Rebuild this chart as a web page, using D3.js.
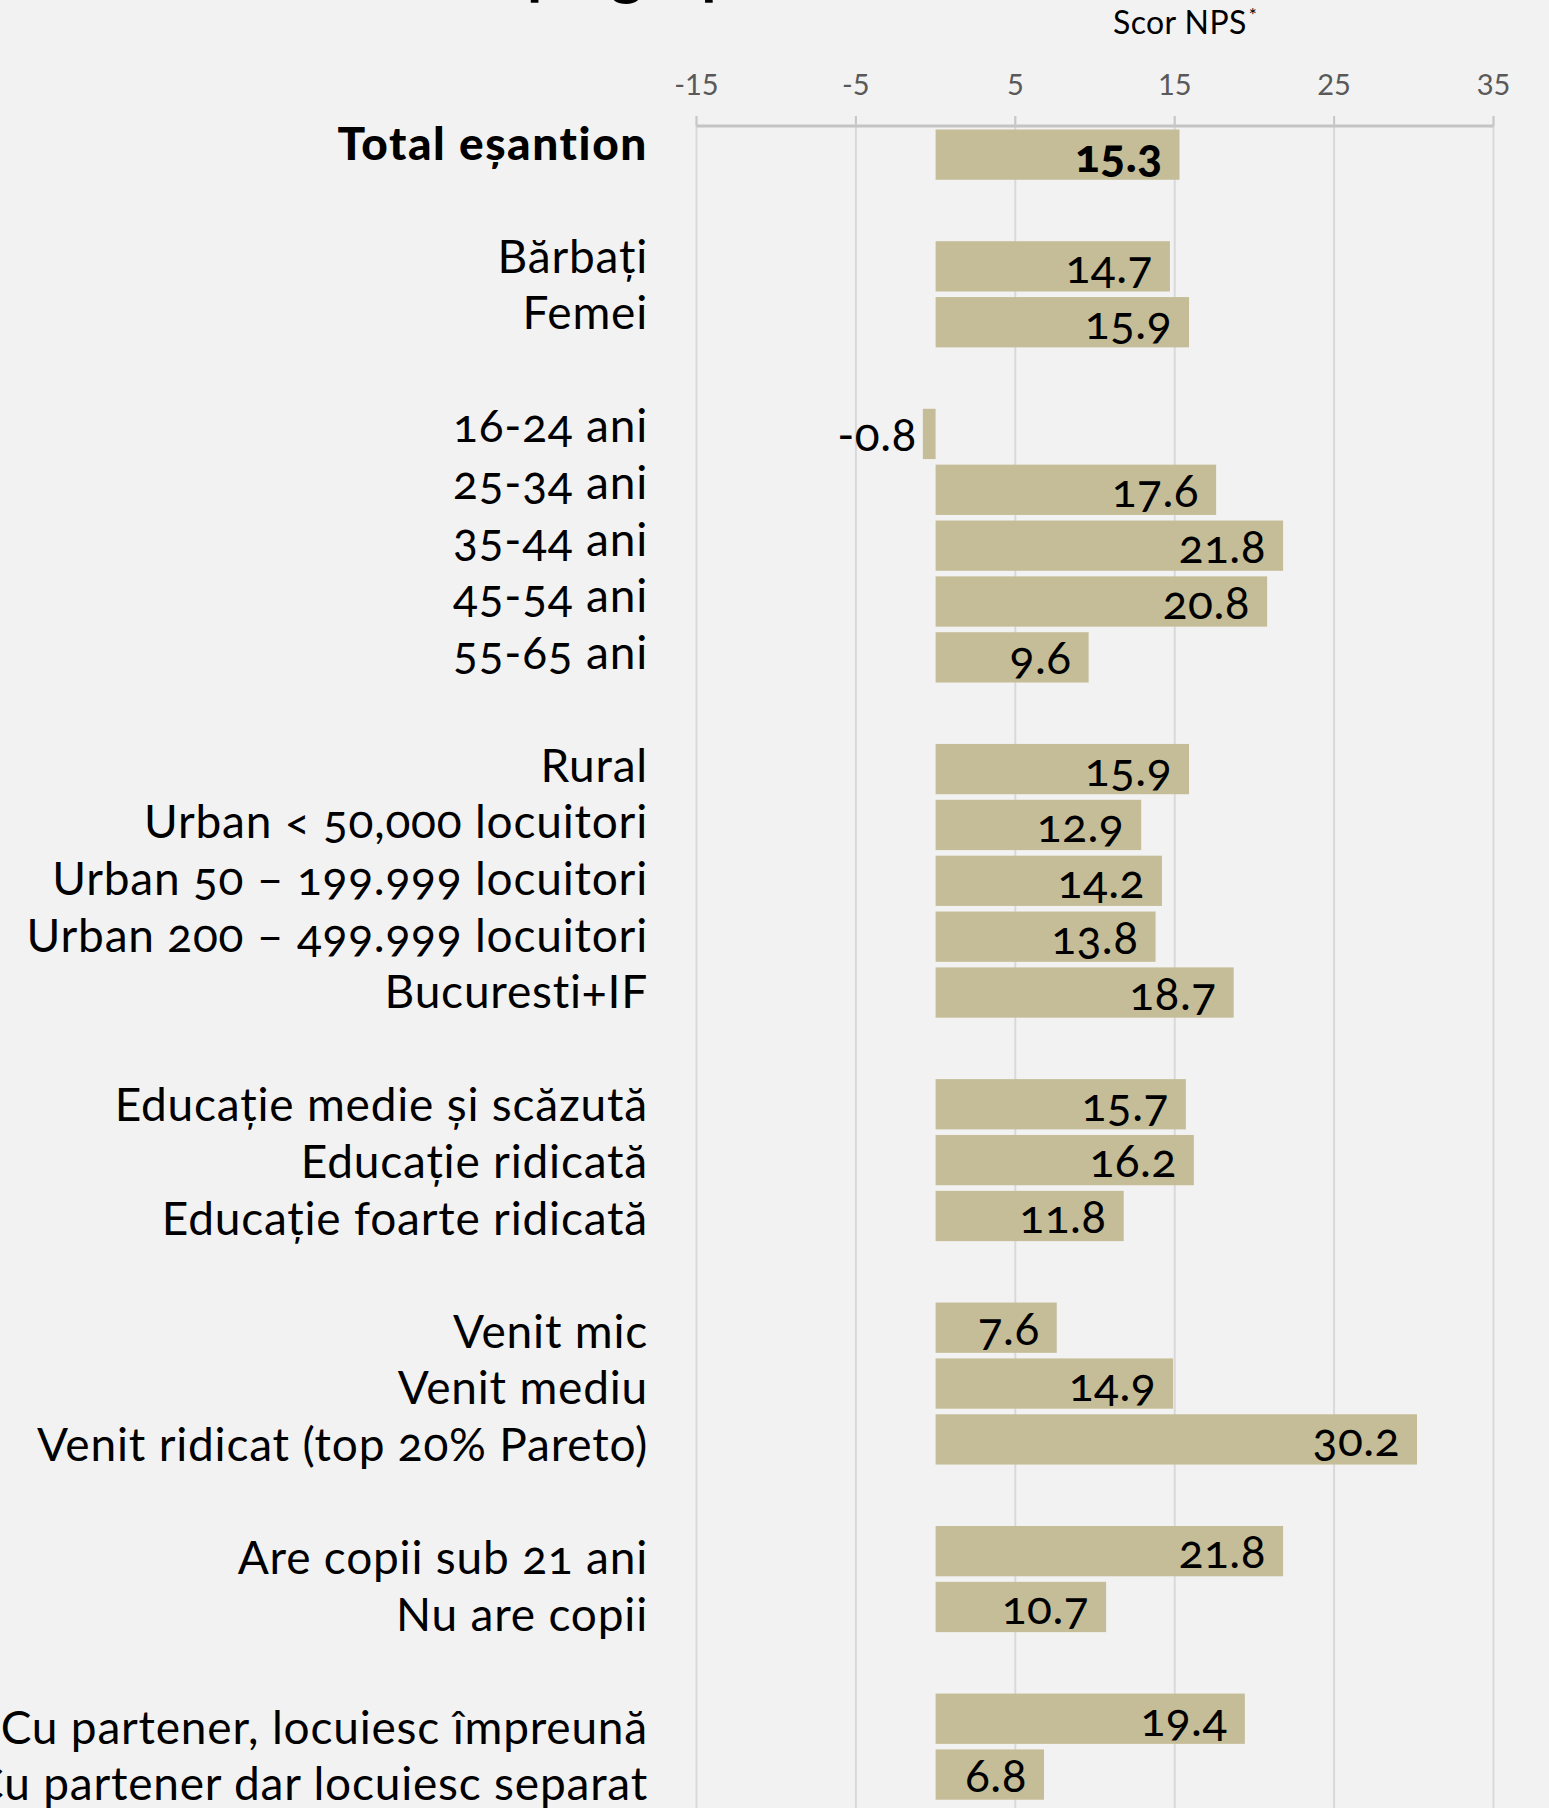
<!DOCTYPE html>
<html>
<head>
<meta charset="utf-8">
<script src="https://cdn.jsdelivr.net/npm/d3@7"></script>
<style>
  html, body { margin: 0; padding: 0; background: #f2f2f2; }
  svg { display: block; }
  text { font-family: Lato, "Noto Sans", sans-serif; }
</style>
</head>
<body>
<svg id="chart" width="1549" height="1808"></svg>
<script>
// ---- data ----
const categories = [
  "Total eșantion",
  "Bărbați", "Femei",
  "16-24 ani", "25-34 ani", "35-44 ani", "45-54 ani", "55-65 ani",
  "Rural", "Urban < 50,000 locuitori", "Urban 50 – 199.999 locuitori", "Urban 200 – 499.999 locuitori", "Bucuresti+IF",
  "Educație medie și scăzută", "Educație ridicată", "Educație foarte ridicată",
  "Venit mic", "Venit mediu", "Venit ridicat (top 20% Pareto)",
  "Are copii sub 21 ani", "Nu are copii",
  "Cu partener, locuiesc împreună", "Cu partener dar locuiesc separat"
];
const values = [
  15.3,
  14.7, 15.9,
  -0.8, 17.6, 21.8, 20.8, 9.6,
  15.9, 12.9, 14.2, 13.8, 18.7,
  15.7, 16.2, 11.8,
  7.6, 14.9, 30.2,
  21.8, 10.7,
  19.4, 6.8
];
const groupSizes = [1, 2, 5, 5, 3, 3, 2, 2];
const tickValues = [-15, -5, 5, 15, 25, 35];
const axisTitle = "Scor NPS";
const titleFragment = "pe grupe";

// ---- layout ----
const W = 1549, H = 1808;
const svg = d3.select("#chart");

// slot index for each category: one empty slot between groups
const groupOf = [];
groupSizes.forEach((n, g) => { for (let i = 0; i < n; i++) groupOf.push(g); });
const rows = categories.map((c, i) => ({ name: c, value: values[i], slot: i + groupOf[i], bold: i === 0 }));
const nSlots = d3.max(rows, d => d.slot) + 1;

const x = d3.scaleLinear().domain([-15, 35]).range([696.5, 1493.5]);
const step = 55.86;
const y = d3.scaleBand().domain(d3.range(nSlots))
  .range([126.7, 126.7 + nSlots * step]).paddingInner(0.1).paddingOuter(0.05);
const yLabel = d3.scaleLinear().domain([0, nSlots - 1]).range([159.5, 159.5 + (nSlots - 1) * 56.58]);

const fmt = v => d3.format(".1f")(v).replace("\u2212", "-");

// title fragment (cut off at top)
svg.append("text")
  .attr("x", 527).attr("y", -7)
  .attr("font-size", 62).attr("font-weight", 700).attr("fill", "#000")
  .text(titleFragment);

// axis title
const at = svg.append("text")
  .attr("x", 1113).attr("y", 34)
  .attr("font-size", 32).attr("fill", "#000")
  .attr("letter-spacing", 0.4);
at.append("tspan").text(axisTitle);
at.append("tspan").attr("font-size", 19).attr("dy", -12).attr("dx", 2).text("*");

// gridlines
svg.append("g").selectAll("line").data(tickValues).join("line")
  .attr("x1", d => x(d)).attr("x2", d => x(d))
  .attr("y1", 116).attr("y2", H)
  .attr("stroke", "#d9d9d9").attr("stroke-width", 2);

// top axis line
svg.append("line")
  .attr("x1", x(-15)).attr("x2", x(35))
  .attr("y1", 126).attr("y2", 126)
  .attr("stroke", "#c4c4c4").attr("stroke-width", 3);
// tick marks
svg.append("g").selectAll("line").data(tickValues).join("line")
  .attr("x1", d => x(d)).attr("x2", d => x(d))
  .attr("y1", 116).attr("y2", 126)
  .attr("stroke", "#c8c8c8").attr("stroke-width", 2);

// tick labels
svg.append("g").selectAll("text").data(tickValues).join("text")
  .attr("x", d => x(d)).attr("y", 95)
  .attr("text-anchor", "middle")
  .attr("font-size", 29).attr("fill", "#595959")
  .text(d => String(d));

// bars
svg.append("g").selectAll("rect").data(rows).join("rect")
  .attr("x", d => x(Math.min(0, d.value)))
  .attr("width", d => Math.abs(x(d.value) - x(0)))
  .attr("y", d => y(d.slot))
  .attr("height", y.bandwidth())
  .attr("fill", "#c4bd97");

// value labels
svg.append("g").selectAll("text").data(rows).join("text")
  .attr("x", d => d.value >= 0 ? x(d.value) - 17 : x(d.value) - 6)
  .attr("y", d => y(d.slot) + y.bandwidth() / 2 + 17)
  .attr("text-anchor", "end")
  .attr("font-size", 46)
  .attr("font-weight", d => d.bold ? 900 : 400)
  .attr("letter-spacing", 0.5)
  .style("font-feature-settings", "'onum' 1")
  .attr("fill", "#000")
  .text(d => fmt(d.value));

// category labels
svg.append("g").selectAll("text").data(rows).join("text")
  .attr("x", 648)
  .attr("y", d => yLabel(d.slot))
  .attr("text-anchor", "end")
  .attr("font-size", 46)
  .attr("font-weight", d => d.bold ? 900 : 400)
  .attr("letter-spacing", d => d.bold ? 1.6 : 0.8)
  .style("font-feature-settings", "'onum' 1")
  .attr("fill", "#000")
  .text(d => d.name);
</script>
</body>
</html>
